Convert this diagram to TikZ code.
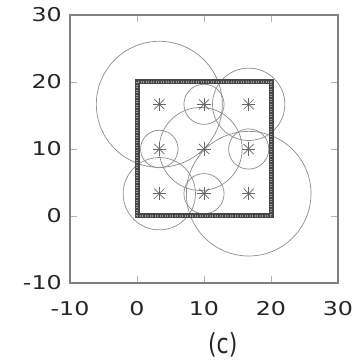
\documentclass[tikz,border=0pt]{standalone}
\usepackage{fontspec}
\setmainfont{DejaVu Sans}
\tikzset{
  axisline/.style={draw=black!50, line width=1.2pt},
  tickline/.style={draw=black!30, line width=0.8pt},
  covcircle/.style={draw=black!45, line width=0.7pt},
  starmark/.style={draw=black!60, line width=0.7pt},
  ticklabel/.style={font=\fontsize{19}{19}\selectfont, inner sep=0pt, text=black!85},
  borderline/.style={draw=black!72, line width=5pt},
  bordertex/.style={draw=black!40, line width=1.2pt, dash pattern=on 1pt off 1.5pt}
}
\newcommand{\wlab}[1]{\scalebox{1.25}[1]{#1}}
\begin{document}
\begin{tikzpicture}[x=1pt,y=1pt]
\useasboundingbox (0,0) rectangle (360,361);
\begin{scope}[shift={(137pt,145pt)}, x=6.7pt, y=6.7pt]
  % axis box
  \coordinate (bl) at (-10,-10);
  \coordinate (tr) at (30,30);
  % ticks
  \foreach \v in {0,10,20} {
    \draw[tickline] (\v,-10) -- ++(0,1.1);
    \draw[tickline] (\v,30) -- ++(0,-1.1);
    \draw[tickline] (-10,\v) -- ++(1.1,0);
    \draw[tickline] (30,\v) -- ++(-1.1,0);
  }
  \draw[axisline] (bl) rectangle (tr);
  % tick labels
  \foreach \v in {-10,0,10,20,30} {
    \node[ticklabel, anchor=east] (yl\v) at (-11.2,\v) {\wlab{\v}};
    \node[ticklabel] (xl\v) at (\v,-13.8) {\wlab{\v}};
  }
  \node[font=\fontsize{22}{22}\selectfont, inner sep=0pt, text=black!85] (cap) at (12.8,-19.3) {\scalebox{1}[1.25]{(c)}};
  % coverage circles
  \draw[covcircle] (3.33,16.67) circle[radius=9.4];
  \draw[covcircle] (10,16.67) circle[radius=3];
  \draw[covcircle] (16.67,16.67) circle[radius=5.4];
  \draw[covcircle] (3.33,10) circle[radius=2.8];
  \draw[covcircle] (9.5,10) circle[radius=6.2];
  \draw[covcircle] (16.67,10) circle[radius=3];
  \draw[covcircle] (3.33,3.33) circle[radius=5.4];
  \draw[covcircle] (10,3.33) circle[radius=3];
  \draw[covcircle] (16.67,3.33) circle[radius=9.3];
  % region border
  \draw[borderline] (0,0) rectangle (20,20);
  \draw[bordertex] (0,0) rectangle (20,20);
  % sensors
  \foreach \i/\px in {a/3.333,b/10,c/16.667} {
    \foreach \j/\py in {a/3.333,b/10,c/16.667} {
      \coordinate (s\i\j) at (\px,\py);
      \draw[starmark] (s\i\j) ++(-1,0) -- ++(2,0);
      \draw[starmark] (s\i\j) ++(0,-1) -- ++(0,2);
      \draw[starmark] (s\i\j) ++(-0.75,-0.75) -- ++(1.5,1.5);
      \draw[starmark] (s\i\j) ++(-0.75,0.75) -- ++(1.5,-1.5);
    }
  }
\end{scope}
\end{tikzpicture}
\end{document}
